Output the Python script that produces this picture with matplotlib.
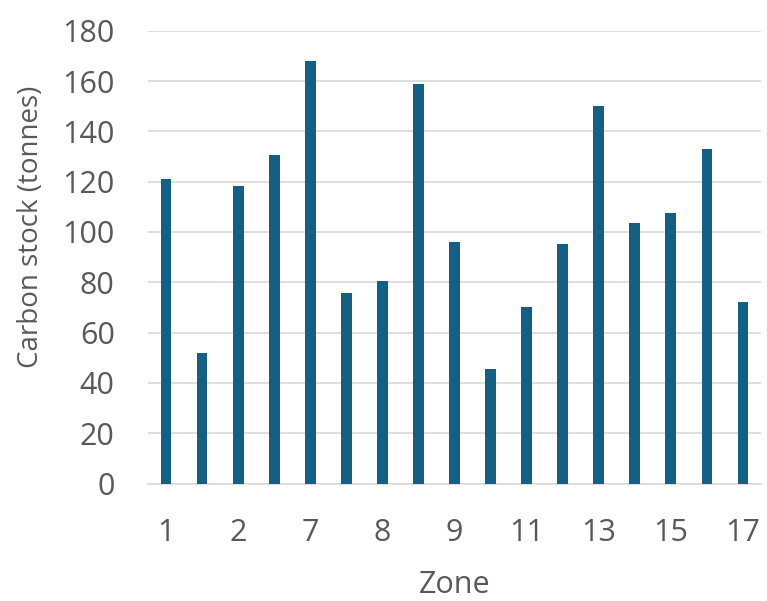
import matplotlib
matplotlib.use("Agg")
import matplotlib.pyplot as plt

zones = ["1", "1b", "2", "6", "7", "7b", "8", "8b", "9", "10", "11", "12", "13", "14", "15", "16", "17"]
carbon_stock = [121, 52, 118.4, 130.5, 168, 75.6, 80.6, 159, 96, 45.6, 70.3, 95.3, 150, 103.7, 107.4, 133, 72.3]

plt.rcParams['font.family'] = ['Open Sans', 'DejaVu Sans']
fig = plt.figure(figsize=(7.67, 6.01), dpi=100)
ax = fig.add_axes([148/767, 117.5/601, (761-148)/767, (483.5-30.7)/601])

x = list(range(len(zones)))
ax.bar(x, carbon_stock, width=0.30, color='#156082', zorder=3)

ax.set_ylim(0, 180)
ax.set_xlim(-0.5, len(zones) - 0.5)
ax.set_yticks(range(0, 181, 20))
ax.set_xticks(x[::2])
ax.set_xticklabels(zones[::2])
ax.grid(axis='y', color='#D9D9D9', linewidth=1.2, zorder=0)
for s in ['top', 'right', 'left']:
    ax.spines[s].set_visible(False)
ax.spines['bottom'].set_color('#D9D9D9')
ax.spines['bottom'].set_linewidth(1.2)
ax.tick_params(axis='both', length=0, labelsize=22, colors='#595959')
ax.tick_params(axis='y', pad=24)
ax.tick_params(axis='x', pad=25)
ax.set_ylabel('Carbon stock (tonnes)', fontsize=20, color='#595959')
ax.yaxis.set_label_coords(-0.168, 0.566)
ax.set_xlabel('Zone', fontsize=22, color='#595959', labelpad=16)

fig.savefig('out.png', dpi=100)
